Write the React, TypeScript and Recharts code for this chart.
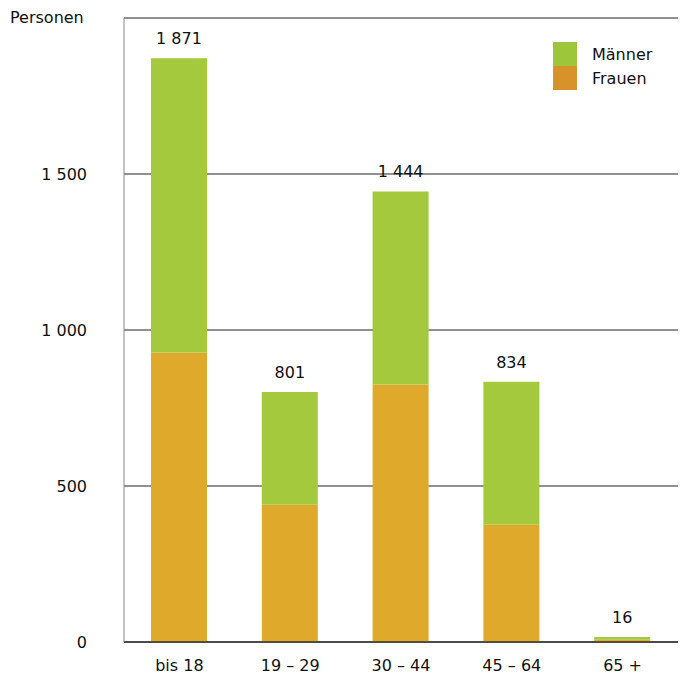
import React from 'react';
import { BarChart, Bar, XAxis, YAxis, CartesianGrid, LabelList } from 'recharts';

const categories = ['bis 18', '19 – 29', '30 – 44', '45 – 64', '65 +'];
const frauen = [928, 440, 825, 376, 7];
const maenner = [943, 361, 619, 458, 9];
const totals = [1871, 801, 1444, 834, 16];
const yTicks = [0, 500, 1000, 1500];

const data = categories.map((c, i) => ({ cat: c, Frauen: frauen[i], Männer: maenner[i], total: totals[i] }));

const fmt = (v: number) => String(v).replace(/\B(?=(\d{3})+(?!\d))/g, ' ');

const FONT = '"DejaVu Sans", sans-serif';
const FS = 16;

const LegendBox = () => (
  <div style={{ position: 'absolute', left: 553, top: 42, fontFamily: FONT, fontSize: FS, color: '#111' }}>
    <div style={{ display: 'flex', alignItems: 'center', height: 24 }}>
      <div style={{ width: 24, height: 24, background: '#9DC63B', marginRight: 15 }} />
      <span>Männer</span>
    </div>
    <div style={{ display: 'flex', alignItems: 'center', height: 24 }}>
      <div style={{ width: 24, height: 24, background: '#D8922A', marginRight: 15 }} />
      <span>Frauen</span>
    </div>
  </div>
);

export default function App() {
  return (
    <div style={{ position: 'absolute', left: 0, top: 0, width: 685, height: 679, background: '#fff' }}>
      <div style={{ position: 'absolute', left: 10, top: 8, fontFamily: FONT, fontSize: FS, color: '#111' }}>Personen</div>
      <BarChart
        width={685}
        height={679}
        data={data}
        margin={{ top: 18, right: 7, bottom: 0, left: 0 }}
      >
        <CartesianGrid vertical={false} stroke="#222" strokeWidth={1} />
        <XAxis
          dataKey="cat"
          tickLine={false}
          axisLine={{ stroke: '#333', strokeWidth: 1.5 }}
          tick={{ fontFamily: FONT, fontSize: FS, fill: '#111' }}
          tickMargin={18}
          tickSize={0}
          height={37}
        />
        <XAxis xAxisId="top" orientation="top" tick={false} tickLine={false} height={0} axisLine={{ stroke: '#666' }} />
        <YAxis
          domain={[0, 2000]}
          ticks={yTicks}
          tickFormatter={fmt}
          tickLine={false}
          tickSize={0}
          tickMargin={37}
          axisLine={{ stroke: '#888' }}
          width={124}
          tick={{ fontFamily: FONT, fontSize: FS, fill: '#111' }}
        />
        <YAxis yAxisId="right" orientation="right" tick={false} tickLine={false} width={0} axisLine={{ stroke: '#333', strokeWidth: 1.5 }} />
        <Bar dataKey="Frauen" stackId="a" fill="#DFAA2C" barSize={56} isAnimationActive={false} />
        <Bar dataKey="Männer" stackId="a" fill="#A4C93D" barSize={56} isAnimationActive={false}>
          <LabelList
            dataKey="total"
            position="top"
            offset={14}
            formatter={(v: any) => fmt(Number(v))}
            style={{ fontFamily: FONT, fontSize: FS, fill: '#111' }}
          />
        </Bar>
      </BarChart>
      <LegendBox />
    </div>
  );
}
